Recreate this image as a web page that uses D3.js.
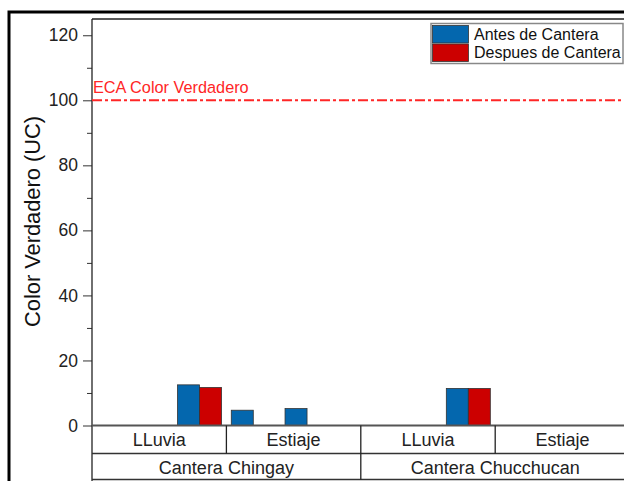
<!DOCTYPE html>
<html>
<head>
<meta charset="utf-8">
<script src="https://cdn.jsdelivr.net/npm/d3@7"></script>
<style>
  body { margin: 0; background: #fff; }
  svg { display: block; font-family: "Liberation Sans", Arial, sans-serif; }
</style>
</head>
<body>
<div id="chart"></div>
<script>
// data rows (row index on the x axis, as in the original worksheet)
var rows = [2, 3, 4, 7];
var antes = [12.5, 4.7, 5.2, 11.4];
var despues = [11.7, null, null, 11.4];
var seasons = ["LLuvia", "Estiaje", "LLuvia", "Estiaje"];
var canteras = ["Cantera Chingay", "Cantera Chucchucan"];
var yTicks = [0, 20, 40, 60, 80, 100, 120];
var ecaValue = 100;
var seriesNames = ["Antes de Cantera", "Despues de Cantera"];

var svgWidth = 624;
var svgHeight = 481;

var margin = { top: 19, left: 92 };
var plotRight = 629.6;
var baseY = 425.5;

var svg = d3.select("#chart")
  .append("svg")
  .attr("width", svgWidth)
  .attr("height", svgHeight);

var xScale = d3.scaleLinear()
  .domain([0, 10])
  .range([margin.left, plotRight]);

var yScale = d3.scaleLinear()
  .domain([0, 125])
  .range([baseY, margin.top]);

var barW = 22;
var blue = "#0467ae";
var red = "#cc0000";

// outer frame
svg.append("path")
  .attr("d", `M9,${svgHeight + 5} L9,12 L${svgWidth + 5},12`)
  .attr("fill", "none")
  .attr("stroke", "#000")
  .attr("stroke-width", 3);

// y axis with major and minor ticks
var yAxis = d3.axisLeft(yScale)
  .tickValues(yTicks)
  .tickSize(9)
  .tickPadding(5);

var yg = svg.append("g")
  .attr("transform", `translate(${margin.left},0)`)
  .call(yAxis);
yg.select(".domain").remove();
yg.selectAll("text")
  .attr("font-size", 17.5)
  .attr("font-family", "Liberation Sans, Arial, sans-serif")
  .attr("fill", "#222");
yg.selectAll("line").attr("stroke", "#333");

svg.append("g")
  .attr("transform", `translate(${margin.left},0)`)
  .call(d3.axisLeft(yScale).tickValues(d3.range(10, 125, 20)).tickSize(5).tickFormat(""))
  .call(g => g.select(".domain").remove())
  .selectAll("line").attr("stroke", "#333");

// plot frame: left and top
svg.append("line")
  .attr("x1", margin.left).attr("x2", margin.left)
  .attr("y1", margin.top).attr("y2", svgHeight)
  .attr("stroke", "#222").attr("stroke-width", 1.3);
svg.append("line")
  .attr("x1", margin.left).attr("x2", svgWidth)
  .attr("y1", margin.top).attr("y2", margin.top)
  .attr("stroke", "#222").attr("stroke-width", 1.3);

// ECA reference line
svg.append("line")
  .attr("x1", margin.left).attr("x2", svgWidth)
  .attr("y1", yScale(ecaValue)).attr("y2", yScale(ecaValue))
  .attr("stroke", "#ff2626")
  .attr("stroke-width", 2)
  .attr("stroke-dasharray", "10,3,3,3");
svg.append("text")
  .attr("x", margin.left + 1)
  .attr("y", yScale(ecaValue) - 7)
  .attr("font-size", 16.3)
  .attr("fill", "#ff2626")
  .text("ECA Color Verdadero");

// bars
var barData = rows.map(function(r, i) {
  return { row: r, antes: antes[i], despues: despues[i] };
});

svg.selectAll(".bar-antes")
  .data(barData.filter(d => d.antes != null))
  .enter()
  .append("rect")
  .attr("class", "bar-antes")
  .attr("x", d => xScale(d.row) - barW)
  .attr("y", d => yScale(d.antes))
  .attr("width", barW)
  .attr("height", d => baseY - yScale(d.antes))
  .attr("fill", blue)
  .attr("stroke", "#333")
  .attr("stroke-width", 0.8);

svg.selectAll(".bar-despues")
  .data(barData.filter(d => d.despues != null))
  .enter()
  .append("rect")
  .attr("class", "bar-despues")
  .attr("x", d => xScale(d.row))
  .attr("y", d => yScale(d.despues))
  .attr("width", barW)
  .attr("height", d => baseY - yScale(d.despues))
  .attr("fill", red)
  .attr("stroke", "#333")
  .attr("stroke-width", 0.8);

// category table under the axis
var row1Y = 453.5;
var row2Y = 479.5;
var seasonW = 10 / seasons.length;
var canteraW = 10 / canteras.length;

svg.append("line")
  .attr("x1", margin.left).attr("x2", svgWidth)
  .attr("y1", baseY).attr("y2", baseY)
  .attr("stroke", "#555").attr("stroke-width", 2);
[row1Y, row2Y].forEach(function(y) {
  svg.append("line")
    .attr("x1", margin.left).attr("x2", svgWidth)
    .attr("y1", y).attr("y2", y)
    .attr("stroke", "#333").attr("stroke-width", 1.5);
});

svg.selectAll(".sep-season")
  .data(d3.range(1, seasons.length))
  .enter()
  .append("line")
  .attr("x1", i => xScale(i * seasonW)).attr("x2", i => xScale(i * seasonW))
  .attr("y1", baseY).attr("y2", row1Y)
  .attr("stroke", "#222").attr("stroke-width", 1.3);

svg.selectAll(".sep-cantera")
  .data(d3.range(1, canteras.length))
  .enter()
  .append("line")
  .attr("x1", i => xScale(i * canteraW)).attr("x2", i => xScale(i * canteraW))
  .attr("y1", row1Y).attr("y2", row2Y)
  .attr("stroke", "#222").attr("stroke-width", 1.3);

svg.selectAll(".season-label")
  .data(seasons)
  .enter()
  .append("text")
  .attr("x", (d, i) => xScale((i + 0.5) * seasonW))
  .attr("y", 446)
  .attr("text-anchor", "middle")
  .attr("font-size", 18)
  .attr("fill", "#222")
  .text(d => d);

svg.selectAll(".cantera-label")
  .data(canteras)
  .enter()
  .append("text")
  .attr("x", (d, i) => xScale((i + 0.5) * canteraW))
  .attr("y", 473.5)
  .attr("text-anchor", "middle")
  .attr("font-size", 18)
  .attr("fill", "#222")
  .text(d => d);

// y axis title
svg.append("text")
  .attr("transform", "translate(40,221.5) rotate(-90)")
  .attr("text-anchor", "middle")
  .attr("font-size", 21.8)
  .attr("fill", "#111")
  .text("Color Verdadero (UC)");

// legend
var legend = svg.append("g").attr("transform", "translate(431,23.5)");
legend.append("rect")
  .attr("width", 192).attr("height", 40)
  .attr("fill", "#fff")
  .attr("stroke", "#888").attr("stroke-width", 1.5);
legend.selectAll(".sw")
  .data(seriesNames)
  .enter()
  .append("rect")
  .attr("x", 1.5)
  .attr("y", (d, i) => 2 + i * 18.5)
  .attr("width", 36)
  .attr("height", 17.5)
  .attr("fill", (d, i) => i === 0 ? blue : red)
  .attr("stroke", "#333").attr("stroke-width", 0.8);
legend.selectAll(".lt")
  .data(seriesNames)
  .enter()
  .append("text")
  .attr("x", 43)
  .attr("y", (d, i) => 16 + i * 18.5)
  .attr("font-size", 16)
  .attr("fill", "#111")
  .text(d => d);
</script>
</body>
</html>
